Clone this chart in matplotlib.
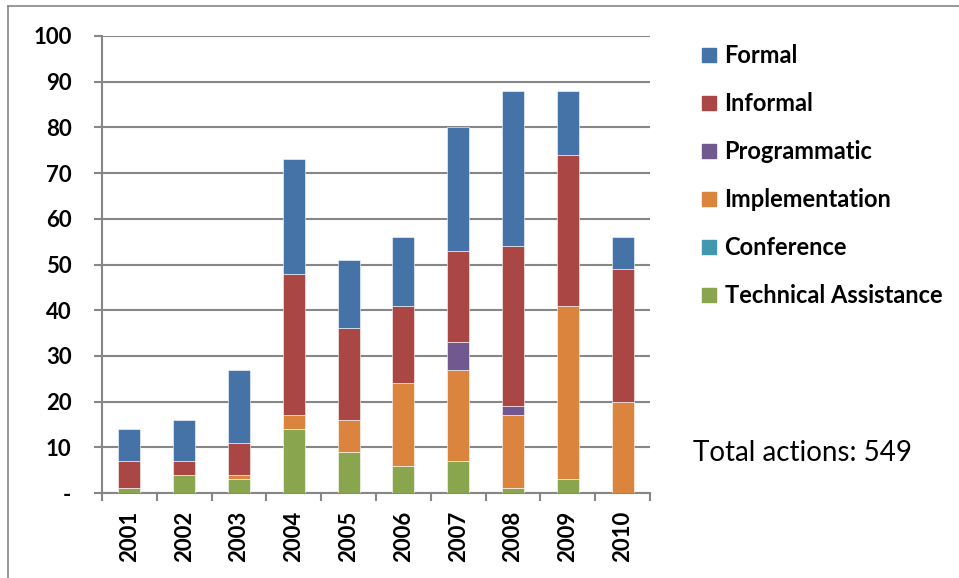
import numpy as np
import matplotlib.pyplot as plt
from matplotlib.lines import Line2D

# === Data ===
years = ['2001', '2002', '2003', '2004', '2005', '2006', '2007', '2008', '2009', '2010']
technical = [1, 4, 3, 14, 9, 6, 7, 1, 3, 0]
conference = [0, 0, 0, 0, 0, 0, 0, 0, 0, 0]
implementation = [0, 0, 1, 3, 7, 18, 20, 16, 38, 20]
programmatic = [0, 0, 0, 0, 0, 0, 6, 2, 0, 0]
informal = [6, 3, 7, 31, 20, 17, 20, 35, 33, 29]
formal = [7, 9, 16, 25, 15, 15, 27, 34, 14, 7]

series_names = ['Technical Assistance', 'Conference', 'Implementation',
                'Programmatic', 'Informal', 'Formal']
series_vals = [technical, conference, implementation, programmatic, informal, formal]
colors = ['#89A54E', '#4198AF', '#DB843D', '#71588F', '#AA4643', '#4572A7']

plt.rcParams['font.family'] = ['Lato', 'DejaVu Sans']

fig = plt.figure(figsize=(9.59, 5.78), dpi=100)
ax = fig.add_axes([102 / 959, 85 / 578, 548 / 959, 457 / 578])

x = np.arange(len(years))
bottom = np.zeros(len(years))
for name, vals, c in zip(series_names, series_vals, colors):
    vals = np.array(vals, dtype=float)
    ax.bar(x, vals, width=0.40, bottom=bottom, color=c, label=name,
           edgecolor='white', linewidth=0.4, zorder=3)
    bottom += vals

ax.set_xlim(-0.5, len(years) - 0.5)
ax.set_ylim(0, 100)
ax.set_yticks(range(0, 101, 10))
ax.set_yticklabels(['-'] + [str(v) for v in range(10, 101, 10)],
                   fontsize=16, fontweight='bold')
ax.set_xticks(x)
ax.set_xticklabels(years, rotation=90, fontsize=16, fontweight='bold')
ax.tick_params(axis='x', length=0, pad=13)
ax.set_xticks(np.arange(-0.5, len(years)), minor=True)
ax.tick_params(axis='x', which='minor', length=6, width=1.5, color='#868686')
ax.tick_params(axis='y', length=6, width=1.5, color='#868686', pad=16)

ax.yaxis.grid(True, color='#868686', linewidth=1.5, zorder=0)
ax.set_axisbelow(True)
for s in ['top', 'right']:
    ax.spines[s].set_visible(False)
for s in ['left', 'bottom']:
    ax.spines[s].set_color('#868686')
    ax.spines[s].set_linewidth(1.5)

# legend, Formal on top
handles = [Line2D([], [], marker='s', linestyle='none', markersize=10.5,
                  markerfacecolor=c, markeredgecolor=c)
           for c in colors[::-1]]
leg = fig.legend(handles, series_names[::-1], loc='upper left',
                 bbox_to_anchor=(701 / 959, 1 - 44 / 578), frameon=False,
                 prop={'weight': 'bold', 'size': 17}, handlelength=0.7,
                 handletextpad=0.3, labelspacing=1.06, borderaxespad=0,
                 borderpad=0)

fig.text(693 / 959, 1 - 461 / 578, 'Total actions: 549', fontsize=20, va='baseline')

# outer frame (left and top edge visible)
fig.add_artist(Line2D([8 / 959, 8 / 959], [0, 1 - 6 / 578], transform=fig.transFigure,
                      color='#868686', linewidth=1.2))
fig.add_artist(Line2D([8 / 959, 1], [1 - 6 / 578, 1 - 6 / 578], transform=fig.transFigure,
                      color='#868686', linewidth=1.2))

fig.savefig('out.png', dpi=100)
